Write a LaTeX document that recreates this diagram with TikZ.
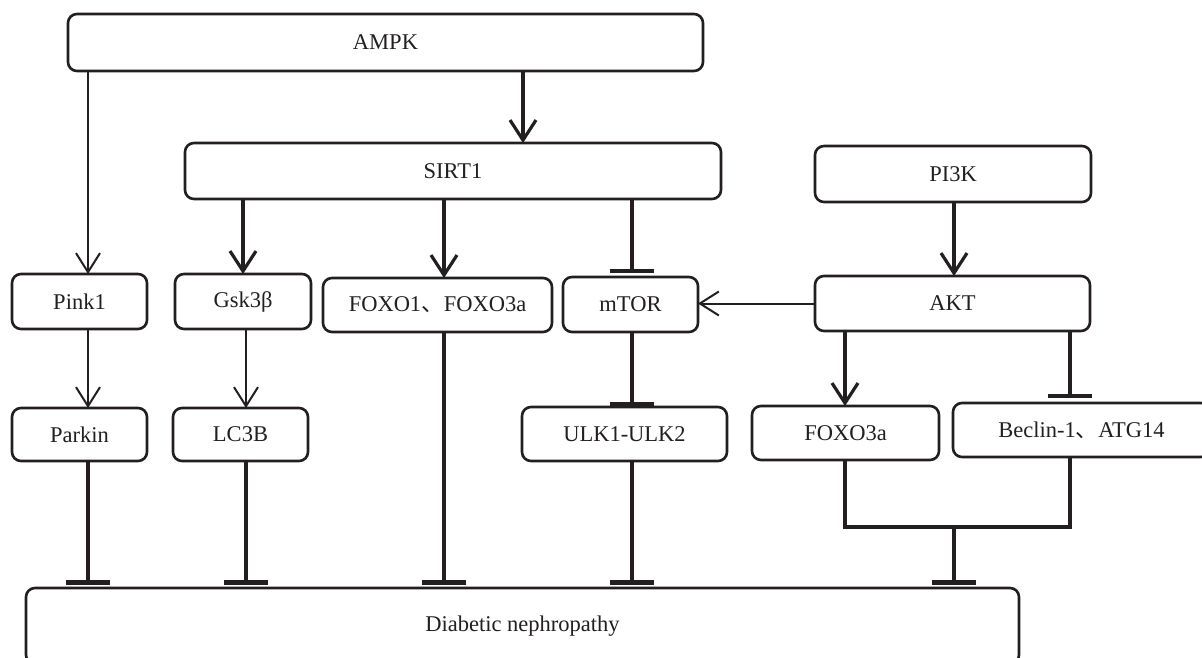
\documentclass[tikz,border=0pt]{standalone}
\usepackage{fontspec}
\setmainfont{Liberation Serif}
\newfontfamily\cjk{Noto Sans CJK SC}
\usetikzlibrary{arrows.meta}
\definecolor{ink}{RGB}{35,31,32}
\begin{document}
\begin{tikzpicture}[x=1pt,y=-1pt,
 box/.style={draw=ink, line width=2.6pt, rounded corners=9pt, inner sep=0pt, outer sep=0pt, font=\fontsize{22.5}{26}\selectfont, text=ink},
 act/.style={draw=ink, line width=3.2pt, -{Straight Barb[length=20pt,width=26pt]}},
 actthin/.style={draw=ink, line width=2pt, -{Straight Barb[length=19pt,width=24pt]}},
 inh/.style={draw=ink, line width=3.2pt, -{Bar[width=44pt,line width=4.5pt]}},
 plain/.style={draw=ink, line width=3.2pt},
 ]
\useasboundingbox (0,0) rectangle (1202,658);
\fill[white] (0,0) rectangle (1202,658);
\clip (0,0) rectangle (1202,658);

\node[box, minimum width=635pt, minimum height=57pt] (ampk) at (385.5,42.5) {AMPK};
\node[box, minimum width=536pt, minimum height=56pt] (sirt1) at (453,171) {SIRT1};
\node[box, minimum width=276pt, minimum height=56pt] (pi3k) at (953,174) {PI3K};
\node[box, minimum width=135pt, minimum height=55pt] (pink1) at (79.5,301.5) {Pink1};
\node[box, minimum width=136pt, minimum height=55pt] (gsk) at (243,301.5) {Gsk3β};
\node[box, minimum width=229pt, minimum height=54pt] (foxo1) at (437.5,305) {FOXO1{\cjk 、}FOXO3a};
\node[box, minimum width=135pt, minimum height=55pt] (mtor) at (630.5,304.5) {mTOR};
\node[box, minimum width=275pt, minimum height=55pt] (akt) at (952.5,303.5) {AKT};
\node[box, minimum width=135pt, minimum height=53pt] (parkin) at (79.5,434.5) {Parkin};
\node[box, minimum width=135pt, minimum height=53pt] (lc3b) at (240.5,434.5) {LC3B};
\node[box, minimum width=205pt, minimum height=54pt] (ulk) at (624.5,434) {ULK1-ULK2};
\node[box, minimum width=187pt, minimum height=54pt] (foxo3a) at (845.5,433) {FOXO3a};
\node[box, minimum width=257pt, minimum height=54pt] (beclin) at (1081.5,430) {Beclin-1{\cjk 、}ATG14};
\node[box, minimum width=993pt, minimum height=76pt] (dn) at (522.5,626) {Diabetic nephropathy};

\coordinate (xa) at (88,0);
\coordinate (xb) at (523,0);
\coordinate (xc) at (243,0);
\coordinate (xd) at (444,0);
\coordinate (xe) at (632,0);
\coordinate (xf) at (954,0);
\coordinate (xg) at (246,0);
\coordinate (xh) at (845,0);
\coordinate (xi) at (1070,0);
\coordinate (merge) at (954,527);

\draw[actthin] (ampk.south -| xa) -- (pink1.north -| xa);
\draw[act] (ampk.south -| xb) -- (sirt1.north -| xb);
\draw[act] (sirt1.south -| xc) -- (gsk.north -| xc);
\draw[act] (sirt1.south -| xd) -- (foxo1.north -| xd);
\draw[inh, shorten >=4pt] (sirt1.south -| xe) -- (mtor.north -| xe);
\draw[act] (pi3k.south -| xf) -- (akt.north -| xf);
\draw[actthin] (akt.west) -- (akt.west -| mtor.east);
\draw[actthin] (pink1.south -| xa) -- (parkin.north -| xa);
\draw[actthin] (gsk.south -| xg) -- (lc3b.north -| xg);
\draw[inh, shorten >=1pt] (mtor.south -| xe) -- (ulk.north -| xe);
\draw[act] (akt.south -| xh) -- (foxo3a.north -| xh);
\draw[inh, shorten >=5pt] (akt.south -| xi) -- (beclin.north -| xi);
\draw[inh, shorten >=3.5pt] (parkin.south -| xa) -- (dn.north -| xa);
\draw[inh, shorten >=3.5pt] (lc3b.south -| xg) -- (dn.north -| xg);
\draw[inh, shorten >=3.5pt] (foxo1.south -| xd) -- (dn.north -| xd);
\draw[inh, shorten >=3.5pt] (ulk.south -| xe) -- (dn.north -| xe);
\draw[plain] (foxo3a.south -| xh) -- (xh |- merge) -- (xi |- merge) -- (beclin.south -| xi);
\draw[inh, shorten >=3.5pt] (merge) -- (dn.north -| merge);
\end{tikzpicture}
\end{document}
